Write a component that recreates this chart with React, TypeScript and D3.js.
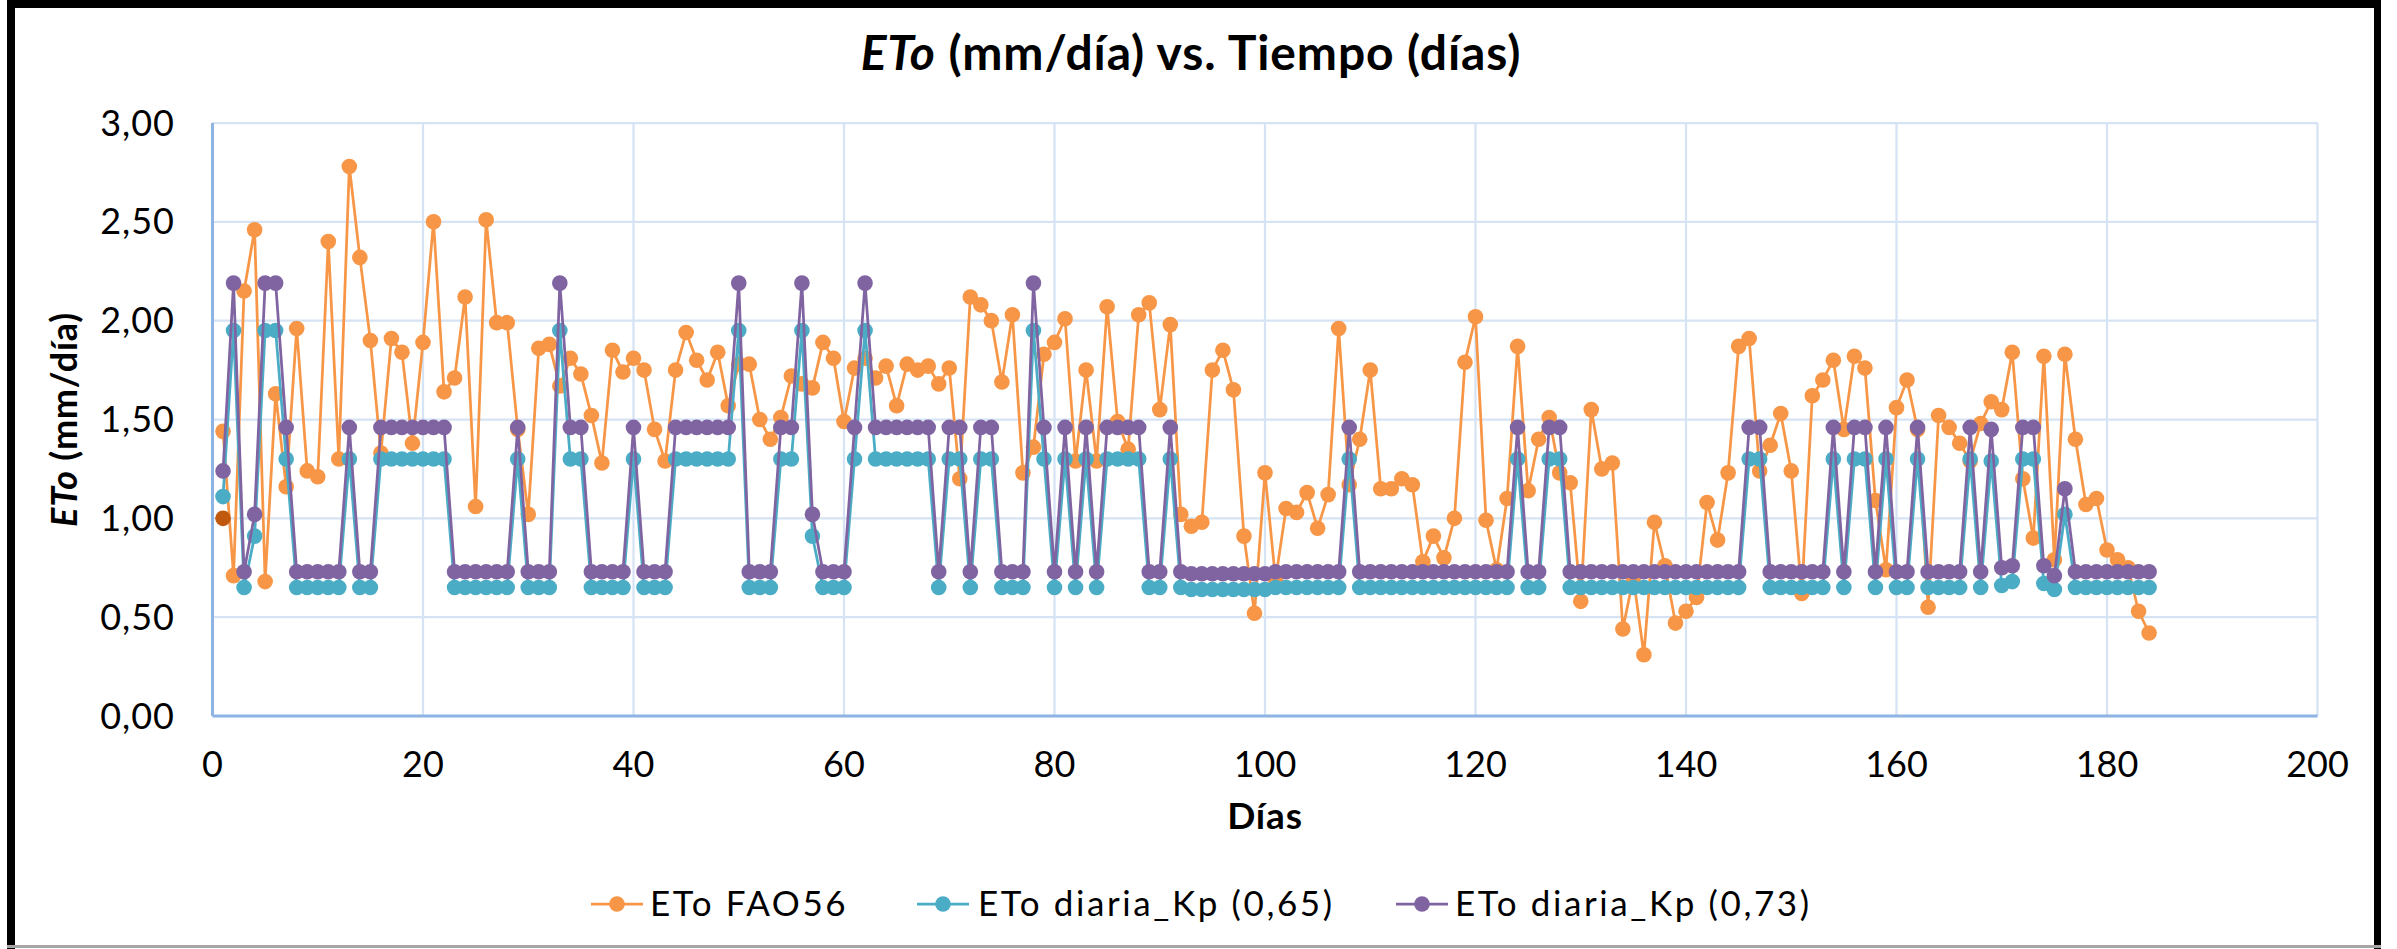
import React from "react";
import * as d3 from "d3";

// Daily reference evapotranspiration, days 1..184
const etoFao56: number[] = [
  1.44, 0.71, 2.15, 2.46, 0.68, 1.63, 1.16, 1.96, 1.24, 1.21,
  2.40, 1.30, 2.78, 2.32, 1.90, 1.33, 1.91, 1.84, 1.38, 1.89,
  2.50, 1.64, 1.71, 2.12, 1.06, 2.51, 1.99, 1.99, 1.45, 1.02,
  1.86, 1.88, 1.67, 1.81, 1.73, 1.52, 1.28, 1.85, 1.74, 1.81,
  1.75, 1.45, 1.29, 1.75, 1.94, 1.80, 1.70, 1.84, 1.57, 1.78,
  1.78, 1.50, 1.40, 1.51, 1.72, 1.68, 1.66, 1.89, 1.81, 1.49,
  1.76, 1.81, 1.71, 1.77, 1.57, 1.78, 1.75, 1.77, 1.68, 1.76,
  1.20, 2.12, 2.08, 2.00, 1.69, 2.03, 1.23, 1.36, 1.83, 1.89,
  2.01, 1.29, 1.75, 1.29, 2.07, 1.49, 1.35, 2.03, 2.09, 1.55,
  1.98, 1.02, 0.96, 0.98, 1.75, 1.85, 1.65, 0.91, 0.52, 1.23,
  0.69, 1.05, 1.03, 1.13, 0.95, 1.12, 1.96, 1.17, 1.40, 1.75,
  1.15, 1.15, 1.20, 1.17, 0.78, 0.91, 0.80, 1.00, 1.79, 2.02,
  0.99, 0.74, 1.10, 1.87, 1.14, 1.40, 1.51, 1.23, 1.18, 0.58,
  1.55, 1.25, 1.28, 0.44, 0.70, 0.31, 0.98, 0.76, 0.47, 0.53,
  0.60, 1.08, 0.89, 1.23, 1.87, 1.91, 1.24, 1.37, 1.53, 1.24,
  0.62, 1.62, 1.70, 1.80, 1.45, 1.82, 1.76, 1.09, 0.74, 1.56,
  1.70, 1.45, 0.55, 1.52, 1.46, 1.38, 1.29, 1.48, 1.59, 1.55,
  1.84, 1.20, 0.90, 1.82, 0.79, 1.83, 1.40, 1.07, 1.10, 0.84,
  0.79, 0.75, 0.53, 0.42,
];

// Pan-based ETo with Kp = 0.65
const etoKp065: number[] = [
  1.11, 1.95, 0.65, 0.91, 1.95, 1.95, 1.30, 0.65, 0.65, 0.65,
  0.65, 0.65, 1.30, 0.65, 0.65, 1.30, 1.30, 1.30, 1.30, 1.30,
  1.30, 1.30, 0.65, 0.65, 0.65, 0.65, 0.65, 0.65, 1.30, 0.65,
  0.65, 0.65, 1.95, 1.30, 1.30, 0.65, 0.65, 0.65, 0.65, 1.30,
  0.65, 0.65, 0.65, 1.30, 1.30, 1.30, 1.30, 1.30, 1.30, 1.95,
  0.65, 0.65, 0.65, 1.30, 1.30, 1.95, 0.91, 0.65, 0.65, 0.65,
  1.30, 1.95, 1.30, 1.30, 1.30, 1.30, 1.30, 1.30, 0.65, 1.30,
  1.30, 0.65, 1.30, 1.30, 0.65, 0.65, 0.65, 1.95, 1.30, 0.65,
  1.30, 0.65, 1.30, 0.65, 1.30, 1.30, 1.30, 1.30, 0.65, 0.65,
  1.30, 0.65, 0.64, 0.64, 0.64, 0.64, 0.64, 0.64, 0.64, 0.64,
  0.65, 0.65, 0.65, 0.65, 0.65, 0.65, 0.65, 1.30, 0.65, 0.65,
  0.65, 0.65, 0.65, 0.65, 0.65, 0.65, 0.65, 0.65, 0.65, 0.65,
  0.65, 0.65, 0.65, 1.30, 0.65, 0.65, 1.30, 1.30, 0.65, 0.65,
  0.65, 0.65, 0.65, 0.65, 0.65, 0.65, 0.65, 0.65, 0.65, 0.65,
  0.65, 0.65, 0.65, 0.65, 0.65, 1.30, 1.30, 0.65, 0.65, 0.65,
  0.65, 0.65, 0.65, 1.30, 0.65, 1.30, 1.30, 0.65, 1.30, 0.65,
  0.65, 1.30, 0.65, 0.65, 0.65, 0.65, 1.30, 0.65, 1.29, 0.66,
  0.68, 1.30, 1.30, 0.67, 0.64, 1.02, 0.65, 0.65, 0.65, 0.65,
  0.65, 0.65, 0.65, 0.65,
];

// Pan-based ETo with Kp = 0.73
const etoKp073: number[] = [
  1.24, 2.19, 0.73, 1.02, 2.19, 2.19, 1.46, 0.73, 0.73, 0.73,
  0.73, 0.73, 1.46, 0.73, 0.73, 1.46, 1.46, 1.46, 1.46, 1.46,
  1.46, 1.46, 0.73, 0.73, 0.73, 0.73, 0.73, 0.73, 1.46, 0.73,
  0.73, 0.73, 2.19, 1.46, 1.46, 0.73, 0.73, 0.73, 0.73, 1.46,
  0.73, 0.73, 0.73, 1.46, 1.46, 1.46, 1.46, 1.46, 1.46, 2.19,
  0.73, 0.73, 0.73, 1.46, 1.46, 2.19, 1.02, 0.73, 0.73, 0.73,
  1.46, 2.19, 1.46, 1.46, 1.46, 1.46, 1.46, 1.46, 0.73, 1.46,
  1.46, 0.73, 1.46, 1.46, 0.73, 0.73, 0.73, 2.19, 1.46, 0.73,
  1.46, 0.73, 1.46, 0.73, 1.46, 1.46, 1.46, 1.46, 0.73, 0.73,
  1.46, 0.73, 0.72, 0.72, 0.72, 0.72, 0.72, 0.72, 0.72, 0.72,
  0.73, 0.73, 0.73, 0.73, 0.73, 0.73, 0.73, 1.46, 0.73, 0.73,
  0.73, 0.73, 0.73, 0.73, 0.73, 0.73, 0.73, 0.73, 0.73, 0.73,
  0.73, 0.73, 0.73, 1.46, 0.73, 0.73, 1.46, 1.46, 0.73, 0.73,
  0.73, 0.73, 0.73, 0.73, 0.73, 0.73, 0.73, 0.73, 0.73, 0.73,
  0.73, 0.73, 0.73, 0.73, 0.73, 1.46, 1.46, 0.73, 0.73, 0.73,
  0.73, 0.73, 0.73, 1.46, 0.73, 1.46, 1.46, 0.73, 1.46, 0.73,
  0.73, 1.46, 0.73, 0.73, 0.73, 0.73, 1.46, 0.73, 1.45, 0.75,
  0.76, 1.46, 1.46, 0.76, 0.71, 1.15, 0.73, 0.73, 0.73, 0.73,
  0.73, 0.73, 0.73, 0.73,
];

// Single highlighted reading at day 1
const highlightDay: number[] = [1];
const highlightValue: number[] = [1.0];

const xTicks: number[] = [0, 20, 40, 60, 80, 100, 120, 140, 160, 180, 200];
const yTicks: number[] = [0, 0.5, 1, 1.5, 2, 2.5, 3];

const seriesNames: string[] = ["ETo FAO56", "ETo diaria_Kp (0,65)", "ETo diaria_Kp (0,73)"];
const seriesColors: string[] = ["#F79646", "#4BACC6", "#8064A2"];

const W = 2397;
const H = 949;
const FONT = "Lato, 'Open Sans', sans-serif";
const MARKER_R = 7.8;

export default function App() {
  const x = d3.scaleLinear().domain([0, 200]).range([212.5, 2317.5]);
  const y = d3.scaleLinear().domain([0, 3]).range([716, 123]);

  const seriesData = [etoFao56, etoKp065, etoKp073].map((vals) =>
    vals.map((v, i) => ({ d: i + 1, v }))
  );

  const line = d3
    .line<{ d: number; v: number }>()
    .x((p) => x(p.d))
    .y((p) => y(p.v));

  const fmt = (v: number) => v.toFixed(2).replace(".", ",");

  const legendItems = [
    { marker: 617, text: 650 },
    { marker: 943, text: 978 },
    { marker: 1422, text: 1455 },
  ];

  return (
    <svg
      width={W}
      height={H}
      style={{ position: "fixed", left: 0, top: 0, background: "#fff" }}
      fontFamily={FONT}
    >
      <rect x={0} y={0} width={W} height={H} fill="#fff" />
      {/* chart frame */}
      <rect x={7} y={0} width={2374} height={8} fill="#000" />
      <rect x={7} y={0} width={8} height={H} fill="#000" />
      <rect x={2374} y={0} width={7} height={H} fill="#000" />
      <rect x={7} y={945} width={2374} height={3} fill="#a6a6a6" />

      {/* gridlines */}
      {yTicks.map((t) => (
        <line key={"gy" + t} x1={x(0)} x2={x(200)} y1={y(t)} y2={y(t)} stroke="#D6E3F4" strokeWidth={2.25} />
      ))}
      {xTicks.map((t) => (
        <line key={"gx" + t} x1={x(t)} x2={x(t)} y1={y(3)} y2={y(0)} stroke="#D6E3F4" strokeWidth={2.25} />
      ))}
      {/* axes */}
      <line x1={x(0)} x2={x(0)} y1={y(3)} y2={y(0)} stroke="#8EB4E3" strokeWidth={3} />
      <line x1={x(0)} x2={x(200)} y1={y(0)} y2={y(0)} stroke="#8EB4E3" strokeWidth={3} />

      {/* tick labels */}
      {yTicks.map((t) => (
        <text key={"ty" + t} x={175} y={y(t) + 12.5} textAnchor="end" fontSize={36} letterSpacing={1} fill="#000">
          {fmt(t)}
        </text>
      ))}
      {xTicks.map((t) => (
        <text key={"tx" + t} x={x(t)} y={777} textAnchor="middle" fontSize={36} fill="#000">
          {t}
        </text>
      ))}

      {/* series */}
      {seriesData.map((pts, si) => (
        <g key={"s" + si}>
          <path d={line(pts) || ""} fill="none" stroke={seriesColors[si]} strokeWidth={2.75} strokeLinejoin="round" />
          {pts.map((p) => (
            <circle key={p.d} cx={x(p.d)} cy={y(p.v)} r={MARKER_R} fill={seriesColors[si]} />
          ))}
        </g>
      ))}
      {highlightDay.map((d, i) => (
        <circle key={"h" + i} cx={x(d)} cy={y(highlightValue[i])} r={MARKER_R} fill="#C0580E" />
      ))}

      {/* titles */}
      <text x={1191} y={70} textAnchor="middle" fontSize={48} fontWeight={700} letterSpacing={0.9} fill="#000">
        <tspan fontStyle="italic">ETo</tspan> (mm/día) vs. Tiempo (días)
      </text>
      <text
        transform={`translate(77, ${(y(0) + y(3)) / 2}) rotate(-90)`}
        textAnchor="middle"
        fontSize={36}
        fontWeight={700}
        letterSpacing={0.8}
        fill="#000"
      >
        <tspan fontStyle="italic">ETo</tspan> (mm/día)
      </text>
      <text x={(x(0) + x(200)) / 2} y={829} textAnchor="middle" fontSize={37} fontWeight={700} letterSpacing={0.8} fill="#000">
        Días
      </text>

      {/* legend */}
      {legendItems.map((it, i) => (
        <g key={"l" + i}>
          <line x1={it.marker - 26} x2={it.marker + 26} y1={904} y2={904} stroke={seriesColors[i]} strokeWidth={2.75} />
          <circle cx={it.marker} cy={904} r={MARKER_R} fill={seriesColors[i]} />
          <text x={it.text} y={916} fontSize={35} letterSpacing={2.6} fill="#000">
            {seriesNames[i]}
          </text>
        </g>
      ))}
    </svg>
  );
}
